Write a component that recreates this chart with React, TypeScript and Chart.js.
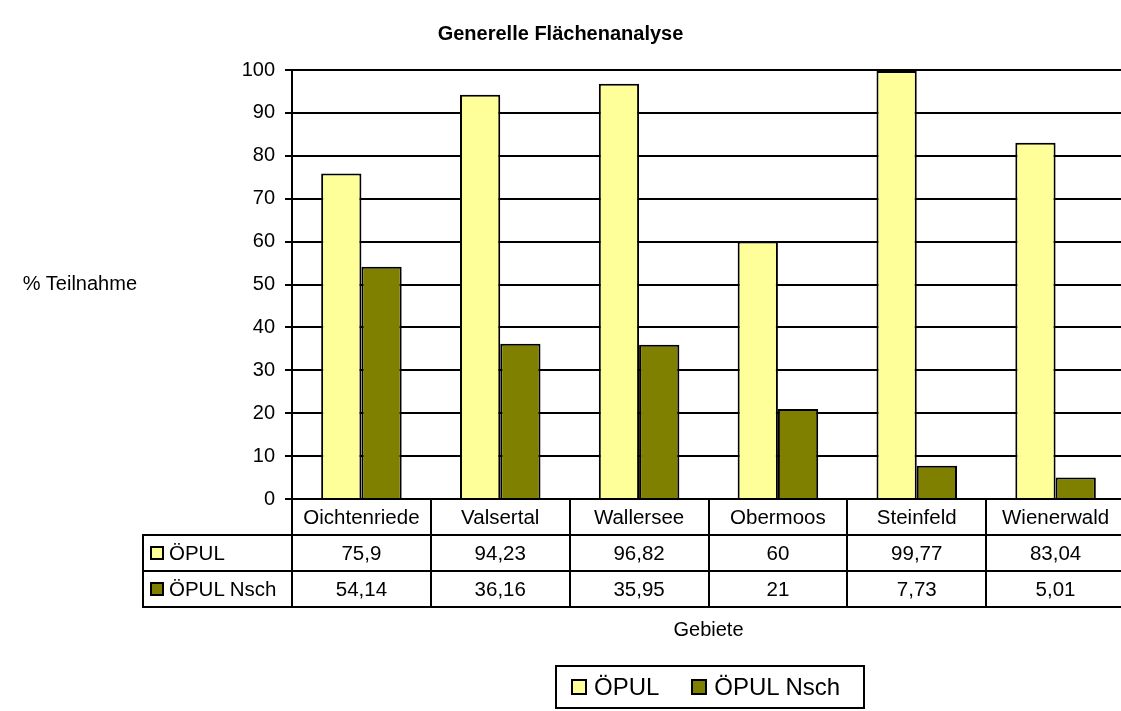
import React, { useEffect, useRef, useState } from "react";
import { Chart, registerables } from "chart.js";

Chart.register(...registerables);

const TITLE = "Generelle Flächenanalyse";
const Y_TITLE = "% Teilnahme";
const X_TITLE = "Gebiete";
const categories = ["Oichtenriede", "Valsertal", "Wallersee", "Obermoos", "Steinfeld", "Wienerwald"];
const seriesNames = ["ÖPUL", "ÖPUL Nsch"];
const opulValues = [75.9, 94.23, 96.82, 60, 99.77, 83.04];
const nschValues = [54.14, 36.16, 35.95, 21, 7.73, 5.01];
const seriesColors = ["#FFFF99", "#808000"];
const yMin = 0;
const yMax = 100;
const yStep = 10;

const FONT = '"Liberation Sans", Arial, Helvetica, sans-serif';
const CANVAS_W = 1130;
const CANVAS_H = 711;
const ROW_H = [36, 36, 36];
const LABEL_COL_LEFT = 143;

type Geom = { left: number; right: number; bottom: number; bounds: number[] };

const fmt = (v: number) => String(v).replace(".", ",");

export default function App() {
  const canvasRef = useRef<HTMLCanvasElement | null>(null);
  const [geom, setGeom] = useState<Geom | null>(null);

  useEffect(() => {
    const canvas = canvasRef.current;
    if (!canvas) return;
    const seriesData = [opulValues, nschValues];
    const chart = new Chart(canvas, {
      type: "bar",
      data: {
        labels: categories,
        datasets: seriesNames.map((name, i) => ({
          label: name,
          data: seriesData[i],
          backgroundColor: seriesColors[i],
          borderColor: "#000000",
          borderWidth: 2,
          categoryPercentage: 0.58,
          barPercentage: 1,
        })),
      },
      options: {
        responsive: false,
        animation: false,
        devicePixelRatio: 1,
        layout: { padding: { left: 0, top: 70, right: 5, bottom: 212 } },
        plugins: {
          legend: { display: false },
          title: { display: false },
          tooltip: { enabled: false },
        },
        scales: {
          x: { display: false, offset: true, grid: { display: false } },
          y: {
            min: yMin,
            max: yMax,
            ticks: { stepSize: yStep, color: "#000000", font: { family: FONT, size: 20 }, padding: 10 },
            grid: { color: "#000000", lineWidth: 2, tickLength: 7, drawTicks: true },
            border: { color: "#000000", width: 2 },
            afterFit: (s: any) => {
              s.width = 292;
            },
          },
        },
      },
    });
    const a = chart.chartArea;
    const xs: any = chart.scales.x;
    const bounds: number[] = [a.left];
    for (let i = 0; i < categories.length - 1; i++) {
      bounds.push((xs.getPixelForValue(i) + xs.getPixelForValue(i + 1)) / 2);
    }
    bounds.push(a.right);
    setGeom({ left: a.left, right: a.right, bottom: a.bottom, bounds });
    return () => chart.destroy();
  }, []);

  const lines: React.ReactNode[] = [];
  const cells: React.ReactNode[] = [];
  if (geom) {
    const top0 = geom.bottom;
    const rowTops = [top0, top0 + ROW_H[0], top0 + ROW_H[0] + ROW_H[1]];
    const tableBottom = rowTops[2] + ROW_H[2];
    const lineStyle = (l: number, t: number, w: number, h: number): React.CSSProperties => ({
      position: "absolute",
      left: l,
      top: t,
      width: w,
      height: h,
      background: "#000",
    });
    lines.push(<div key="h1" style={lineStyle(LABEL_COL_LEFT - 1, rowTops[1] - 1, geom.right - LABEL_COL_LEFT + 2, 2)} />);
    lines.push(<div key="h2" style={lineStyle(LABEL_COL_LEFT - 1, rowTops[2] - 1, geom.right - LABEL_COL_LEFT + 2, 2)} />);
    lines.push(<div key="h3" style={lineStyle(LABEL_COL_LEFT - 1, tableBottom - 1, geom.right - LABEL_COL_LEFT + 2, 2)} />);
    lines.push(<div key="vL" style={lineStyle(LABEL_COL_LEFT - 1, rowTops[1] - 1, 2, tableBottom - rowTops[1] + 2)} />);
    geom.bounds.forEach((x, i) => {
      lines.push(<div key={"v" + i} style={lineStyle(x - 1, top0 - 1, 2, tableBottom - top0 + 2)} />);
    });
    const cellStyle = (l: number, t: number, w: number, h: number): React.CSSProperties => ({
      position: "absolute",
      left: l,
      top: t,
      width: w,
      height: h,
      display: "flex",
      alignItems: "center",
      justifyContent: "center",
      fontFamily: FONT,
      fontSize: 20.5,
      color: "#000",
      whiteSpace: "nowrap",
    });
    const rowsData = [opulValues, nschValues];
    categories.forEach((c, i) => {
      const l = geom.bounds[i];
      const w = geom.bounds[i + 1] - l;
      cells.push(<div key={"c" + i} style={cellStyle(l, rowTops[0], w, ROW_H[0])}>{c}</div>);
      rowsData.forEach((arr, r) => {
        cells.push(
          <div key={"d" + r + "_" + i} style={cellStyle(l, rowTops[r + 1], w, ROW_H[r + 1])}>
            {fmt(arr[i])}
          </div>
        );
      });
    });
    seriesNames.forEach((name, r) => {
      cells.push(
        <div
          key={"lab" + r}
          style={{
            ...cellStyle(LABEL_COL_LEFT + 7, rowTops[r + 1], geom.left - LABEL_COL_LEFT - 7, ROW_H[r + 1]),
            justifyContent: "flex-start",
          }}
        >
          <span
            style={{
              display: "inline-block",
              width: 10,
              height: 10,
              background: seriesColors[r],
              border: "2px solid #000",
              marginRight: 5,
            }}
          />
          {name}
        </div>
      );
    });
  }

  return (
    <div
      style={{
        position: "absolute",
        left: 0,
        top: 0,
        width: 1121,
        height: 711,
        overflow: "hidden",
        background: "#fff",
      }}
    >
      <canvas
        ref={canvasRef}
        width={CANVAS_W}
        height={CANVAS_H}
        style={{ position: "absolute", left: 0, top: 0, width: CANVAS_W, height: CANVAS_H }}
      />
      <div
        style={{
          position: "absolute",
          left: 0,
          width: 1121,
          top: 22,
          textAlign: "center",
          fontFamily: FONT,
          fontWeight: "bold",
          fontSize: 20,
          color: "#000",
        }}
      >
        {TITLE}
      </div>
      <div
        style={{
          position: "absolute",
          right: 1121 - 137,
          top: 272,
          fontFamily: FONT,
          fontSize: 20,
          color: "#000",
          whiteSpace: "nowrap",
        }}
      >
        {Y_TITLE}
      </div>
      {lines}
      {cells}
      {geom && (
        <div
          style={{
            position: "absolute",
            left: geom.left,
            width: geom.right - geom.left,
            top: 618,
            textAlign: "center",
            fontFamily: FONT,
            fontSize: 20,
            color: "#000",
          }}
        >
          {X_TITLE}
        </div>
      )}
      <div
        style={{
          position: "absolute",
          left: 555,
          top: 665,
          width: 306,
          height: 40,
          border: "2px solid #000",
          display: "flex",
          alignItems: "center",
          fontFamily: FONT,
          fontSize: 24,
          color: "#000",
          whiteSpace: "nowrap",
        }}
      >
        {seriesNames.map((name, i) => (
          <span key={name} style={{ display: "inline-flex", alignItems: "center", marginLeft: i === 0 ? 14 : 32 }}>
            <span
              style={{
                display: "inline-block",
                width: 12,
                height: 12,
                background: seriesColors[i],
                border: "2px solid #000",
                marginRight: 7,
              }}
            />
            {name}
          </span>
        ))}
      </div>
    </div>
  );
}
